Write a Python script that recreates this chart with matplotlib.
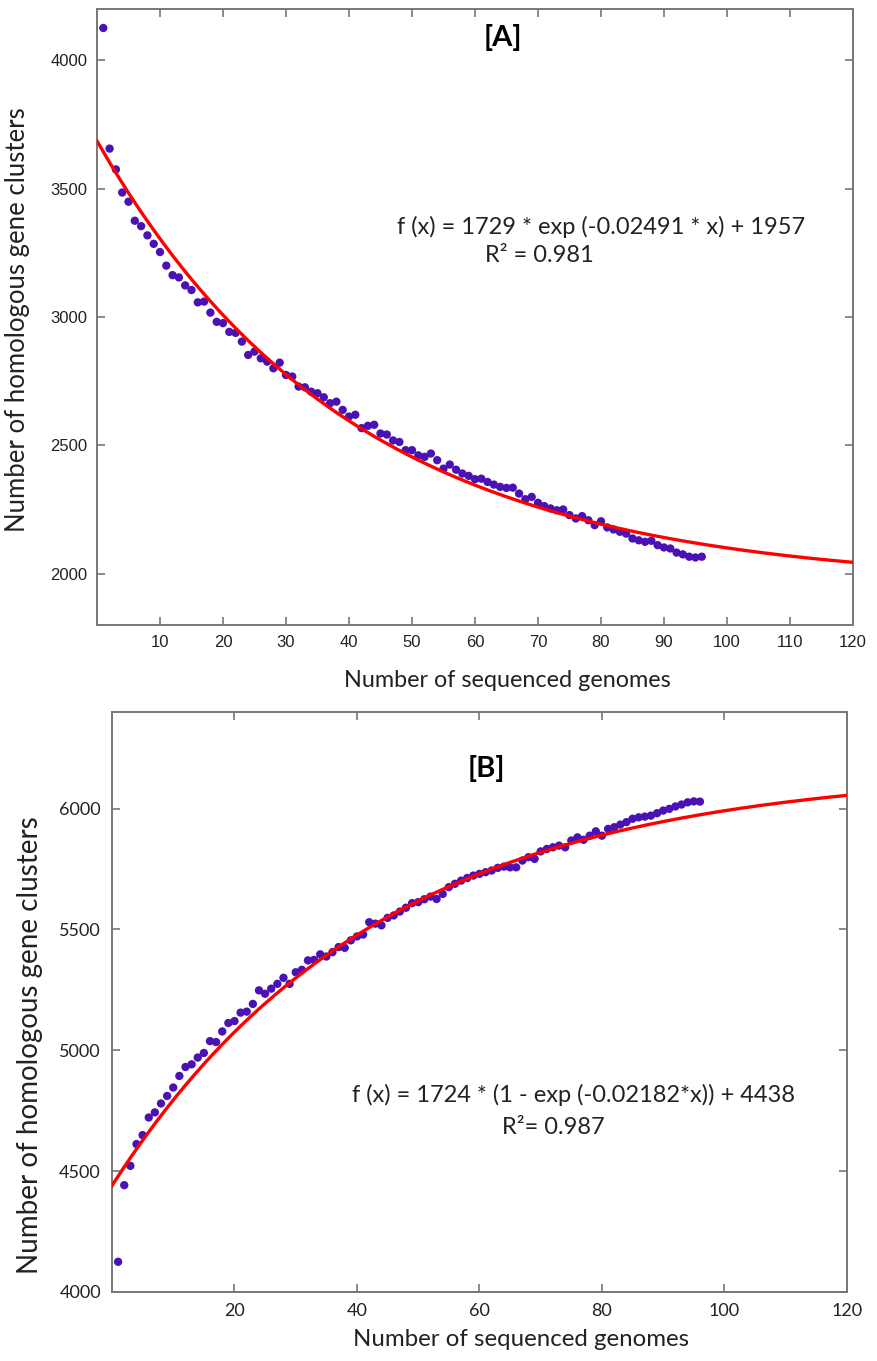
import numpy as np
import matplotlib
matplotlib.use("Agg")
import matplotlib.pyplot as plt

# Panel A: core genome (homologous gene clusters shared by all genomes)
genomes = np.arange(1, 97)
core_clusters = [
    4126, 3656, 3575, 3485, 3449, 3375, 3354, 3318, 3285, 3253,
    3200, 3163, 3154, 3123, 3105, 3057, 3060, 3017, 2981, 2976,
    2942, 2938, 2904, 2852, 2865, 2839, 2826, 2800, 2822, 2774,
    2768, 2729, 2726, 2709, 2703, 2687, 2664, 2670, 2638, 2612,
    2619, 2567, 2576, 2580, 2546, 2542, 2519, 2513, 2481, 2481,
    2461, 2455, 2468, 2442, 2409, 2425, 2405, 2390, 2381, 2368,
    2370, 2357, 2347, 2338, 2334, 2335, 2312, 2290, 2299, 2276,
    2263, 2254, 2247, 2250, 2228, 2215, 2224, 2208, 2189, 2204,
    2180, 2172, 2163, 2156, 2137, 2130, 2124, 2128, 2111, 2102,
    2098, 2082, 2075, 2066, 2063, 2066,
]

# Panel B: pan genome
pan_clusters = [
    4125, 4442, 4522, 4612, 4649, 4722, 4743, 4780, 4811, 4846,
    4894, 4931, 4942, 4970, 4989, 5038, 5034, 5078, 5113, 5121,
    5156, 5160, 5192, 5248, 5234, 5255, 5275, 5300, 5275, 5323,
    5333, 5372, 5374, 5397, 5388, 5406, 5427, 5424, 5455, 5471,
    5479, 5530, 5524, 5517, 5548, 5558, 5574, 5590, 5609, 5613,
    5625, 5636, 5626, 5647, 5675, 5689, 5702, 5713, 5723, 5730,
    5737, 5744, 5755, 5760, 5757, 5757, 5785, 5799, 5792, 5823,
    5833, 5840, 5847, 5840, 5868, 5881, 5871, 5888, 5906, 5888,
    5916, 5923, 5934, 5944, 5958, 5964, 5967, 5971, 5981, 5992,
    5999, 6009, 6017, 6026, 6030, 6029,
]

# fit curves: core as printed; pan curve as it is drawn in the figure
# (the drawn red line sits a little higher than the printed rate gives)
a_amp, a_rate, a_base = 1729, 0.02491, 1957
b_amp, b_rate, b_base = 1724, 0.0230, 4440

x_fit = np.linspace(0, 120, 400)
core_fit = a_amp * np.exp(-a_rate * x_fit) + a_base
pan_fit = b_amp * (1 - np.exp(-b_rate * x_fit)) + b_base

dot_color = "#4a12b4"
spine_color = "#777777"
text_color = "#222222"
label_font = ["Lato", "DejaVu Sans"]

fig = plt.figure(figsize=(8.77, 13.61), dpi=100)
ax_a = fig.add_axes([0.1106, 0.5408, 0.862, 0.4526])
ax_b = fig.add_axes([0.1277, 0.0507, 0.838, 0.4262])


def style_axes(ax, tick_family, tick_size, pad):
    for s in ax.spines.values():
        s.set_color(spine_color)
        s.set_linewidth(1.4)
    ax.tick_params(direction="in", top=True, right=True, length=6,
                   width=1.2, color=spine_color, labelsize=tick_size,
                   labelcolor=text_color, pad=pad)
    for lab in ax.get_xticklabels() + ax.get_yticklabels():
        lab.set_family(tick_family)


# ---- Panel A ----
ax_a.plot(x_fit, core_fit, color="red", linewidth=2.4, zorder=3)
ax_a.scatter(genomes, core_clusters, s=36, color=dot_color, zorder=2,
             edgecolors="none")
ax_a.set_xlim(0, 120)
ax_a.set_ylim(1800, 4200)
ax_a.set_xticks(np.arange(10, 121, 10))
ax_a.set_yticks([2000, 2500, 3000, 3500, 4000])
style_axes(ax_a, ["Liberation Sans"], 12, 7)
ax_a.text(64.4, 4087, "[A]", fontsize=21, fontweight="bold",
          family=label_font, ha="center", va="center")
ax_a.text(80, 3350, "f (x) = 1729 * exp (-0.02491 * x) + 1957",
          fontsize=17, family=label_font, ha="center", va="center",
          color=text_color)
ax_a.text(70.3, 3240, "R² = 0.981", fontsize=17, family=label_font,
          ha="center", va="center", color=text_color)

# ---- Panel B ----
ax_b.plot(x_fit, pan_fit, color="red", linewidth=2.4, zorder=3)
ax_b.scatter(genomes, pan_clusters, s=36, color=dot_color, zorder=2,
             edgecolors="none")
ax_b.set_xlim(0, 120)
ax_b.set_ylim(4000, 6400)
ax_b.set_xticks(np.arange(20, 121, 20))
ax_b.set_yticks([4000, 4500, 5000, 5500, 6000])
style_axes(ax_b, label_font, 13, 8)
ax_b.text(61.2, 6165, "[B]", fontsize=21, fontweight="bold",
          family=label_font, ha="center", va="center")
ax_b.text(75.4, 4814, "f (x) = 1724 * (1 - exp (-0.02182*x)) + 4438",
          fontsize=17, family=label_font, ha="center", va="center",
          color=text_color)
ax_b.text(72, 4682, "R²= 0.987", fontsize=17, family=label_font,
          ha="center", va="center", color=text_color)

# axis titles
fig.text(0.0205, 0.765, "Number of homologous gene clusters", rotation=90,
         fontsize=18.5, family=label_font, ha="center", va="center",
         color=text_color)
fig.text(0.578, 0.500, "Number of sequenced genomes", fontsize=16.8,
         family=label_font, ha="center", va="center", color=text_color)
fig.text(0.034, 0.232, "Number of homologous gene clusters", rotation=90,
         fontsize=20, family=label_font, ha="center", va="center",
         color=text_color)
fig.text(0.594, 0.0155, "Number of sequenced genomes", fontsize=17.3,
         family=label_font, ha="center", va="center", color=text_color)

fig.savefig("out.png", dpi=100)
